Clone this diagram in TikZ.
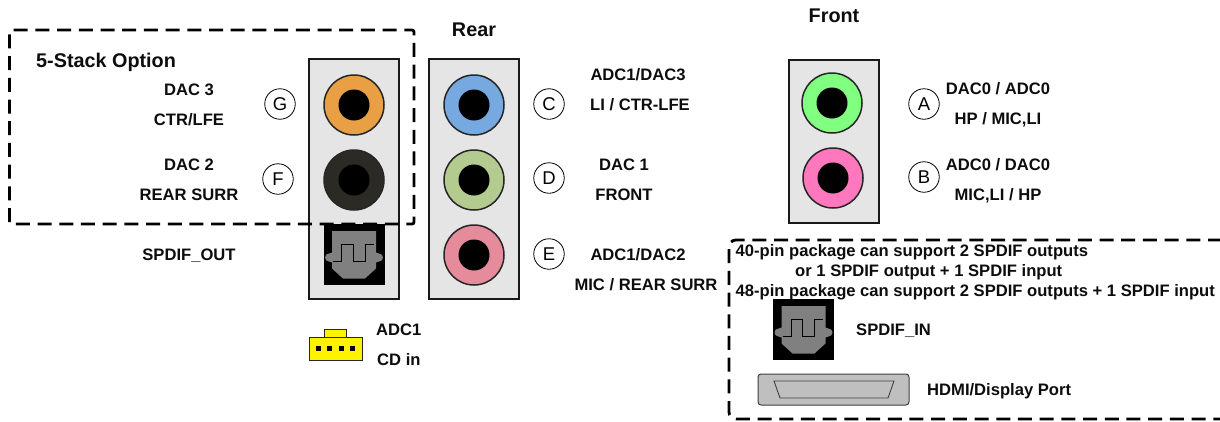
\documentclass[tikz,border=0pt]{standalone}
\usepackage{fontspec}
\setmainfont{Liberation Sans}
\definecolor{jo}{HTML}{E9A045}
\definecolor{jk}{HTML}{2B2A25}
\definecolor{jb}{HTML}{76A9DF}
\definecolor{jg}{HTML}{B3CB8F}
\definecolor{jp}{HTML}{E58B9B}
\definecolor{jl}{HTML}{80FF80}
\definecolor{jm}{HTML}{FF78BE}
\tikzset{
  lbl/.style={font=\fontsize{16.6}{19}\selectfont\bfseries,inner sep=0pt,text=black!95,text height=12pt,text depth=0pt},
  ttl/.style={font=\fontsize{19.8}{22}\selectfont\bfseries,inner sep=0pt,text=black!95,text height=14pt,text depth=0pt},
  panel/.style={draw=black!90,line width=1.7pt,fill=black!10},
  letter/.style={circle,draw=black,line width=0.8pt,fill=white,minimum size=30.5pt,inner sep=0pt,font=\fontsize{18.5}{20}\selectfont},
  dashbox/.style={draw=black,line width=2.8pt,dash pattern=on 14pt off 7.7pt},
  pics/jack/.style={code={
    \fill[#1,draw=black!85,line width=1.5pt] (0,0) circle (30);
    \fill[black] (0,0) circle (15.5);
  }},
  pics/optical/.style={code={
    \fill[black] (-30.5,-30.5) rectangle (30.5,30.5);
    \fill[black!50] (-22,-23.5) -- (22,-23.5) -- (22,-2) -- (25,-1) arc (-90:90:4) -- (22,8) -- (22,14) -- (11,24) -- (-11,24) -- (-22,14) -- (-22,8) -- (-25,7) arc (90:270:4) -- (-22,-2) -- cycle;
    \draw[black,line width=0.9pt] (-20.7,7) -- (-12.3,7) -- (-12.3,-10.5) -- (-0.7,-10.5) -- (-0.7,7) -- (11,7) -- (11,-10.5) -- (19.5,-10.5);
  }},
}
\begin{document}
\begin{tikzpicture}[x=1pt,y=-1pt]
\useasboundingbox (0,0) rectangle (1220,421);
\fill[white] (0,0) rectangle (1220,421);

% panels
\draw[panel] (309,59) rectangle (399,299);
\draw[panel] (429,59) rectangle (519,299);
\draw[panel] (789,60) rectangle (879,223);

% jacks
\pic at (354,105) {jack=jo};
\pic at (354,180) {jack=jk};
\pic at (474,105) {jack=jb};
\pic at (474,180) {jack=jg};
\pic at (474,255) {jack=jp};
\pic at (832,103) {jack=jl};
\pic at (833,178) {jack=jm};

% optical
\pic at (354,254.5) {optical};
\pic at (803.5,329.5) {optical};

% dashed boxes
\draw[dashbox,rounded corners=2pt] (9.5,224) -- (9.5,30) -- (414,30) -- (414,224) -- cycle;
\draw[dashbox,rounded corners=7pt] (1222,240) -- (729,240) -- (729,419) -- (1222,419);

% letter circles
\node[letter] (G) at (280,104) {G};
\node[letter] (F) at (278,179) {F};
\node[letter] (C) at (549,104) {C};
\node[letter] (D) at (549,178) {D};
\node[letter] (E) at (549,254) {E};
\node[letter] (A) at (924,104) {A};
\node[letter] (B) at (924,177) {B};

% yellow connector
\draw[fill=yellow,draw=black!85,line width=1pt] (324,329) rectangle (346,337);
\draw[fill=yellow,draw=black!85,line width=1pt] (309,337) rectangle (362,360);
\foreach \px in {318.5,329.5,341,352.5}
  \fill[black] (\px-2.5,345.5) rectangle (\px+2.5,350.5);

% HDMI
\draw[fill=black!25,draw=black!75,line width=1pt,rounded corners=3pt] (758,374) rectangle (909,405);
\draw[fill=black!25,draw=black!75,line width=0.9pt] (774,381) -- (894,381) -- (888,398) -- (780,398) -- cycle;

% labels
\node[ttl] (rear) at (474,29) {Rear};
\node[ttl] (front) at (834,15) {Front};
\node[ttl,anchor=west] (stack) at (36,60) {5-Stack Option};
\node[lbl] (l1) at (189,89) {DAC 3};
\node[lbl] (l2) at (189,119) {CTR/LFE};
\node[lbl] (l3) at (189,164) {DAC 2};
\node[lbl] (l4) at (189,194) {REAR SURR};
\node[lbl] (l5) at (189,254) {SPDIF\_OUT};
\node[lbl] (l6) at (638,74) {ADC1/DAC3};
\node[lbl] (l7) at (640,104) {LI / CTR-LFE};
\node[lbl] (l8) at (624,164) {DAC 1};
\node[lbl] (l9) at (624,194) {FRONT};
\node[lbl] (l10) at (638,254) {ADC1/DAC2};
\node[lbl] (l11) at (646,284) {MIC / REAR SURR};
\node[lbl] (l12) at (998,88) {DAC0 / ADC0};
\node[lbl] (l13) at (998,118) {HP / MIC,LI};
\node[lbl] (l14) at (998,164) {ADC0 / DAC0};
\node[lbl] (l15) at (998,194) {MIC,LI / HP};
\node[lbl,anchor=west] (l16) at (376,329) {ADC1};
\node[lbl,anchor=west] (l17) at (377,359) {CD in};
\node[lbl,anchor=west] (l18) at (735.5,250) {40-pin package can support 2 SPDIF outputs};
\node[lbl,anchor=west] (l19) at (795,270) {or 1 SPDIF output + 1 SPDIF input};
\node[lbl,anchor=west] (l20) at (735.5,290) {48-pin package can support 2 SPDIF outputs + 1 SPDIF input};
\node[lbl,anchor=west] (l21) at (856,329) {SPDIF\_IN};
\node[lbl,anchor=west] (l22) at (927,389) {HDMI/Display Port};
\end{tikzpicture}
\end{document}
